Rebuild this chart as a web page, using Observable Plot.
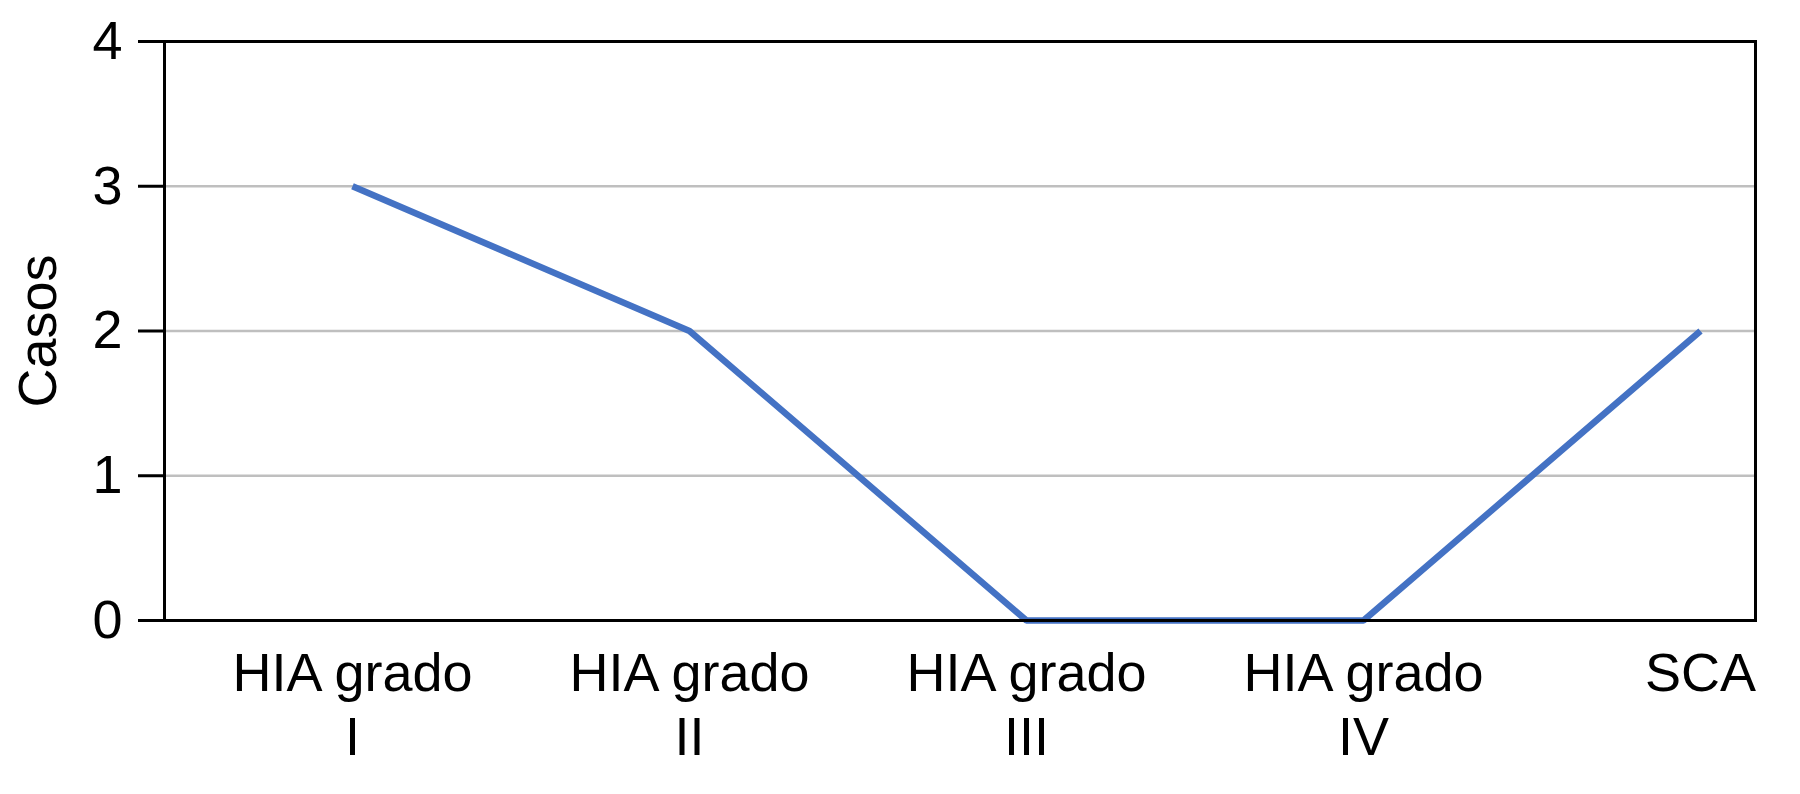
<!DOCTYPE html>
<html>
<head>
<meta charset="utf-8">
<script src="https://cdn.jsdelivr.net/npm/d3@7"></script>
<script src="https://cdn.jsdelivr.net/npm/@observablehq/plot@0.6"></script>
<style>
  html, body { margin: 0; padding: 0; background: #fff; }
  #chart svg { display: block; }
</style>
</head>
<body>
<div id="chart"></div>
<script>
// Data
const categories = ["HIA grado\nI", "HIA grado\nII", "HIA grado\nIII", "HIA grado\nIV", "SCA"];
const casos = [3, 2, 0, 0, 2];
const yTicks = [0, 1, 2, 3, 4];
const gridTicks = [1, 2, 3];
const yLabel = "Casos";

const data = categories.map((c, i) => ({cat: c, v: casos[i]}));

const font = "'Liberation Sans', Arial, Helvetica, sans-serif";

const chart = Plot.plot({
  width: 1800,
  height: 794,
  marginLeft: 164,
  marginRight: 45,
  marginTop: 41,
  marginBottom: 174,
  style: {fontFamily: font, fontSize: "54px", color: "#000", background: "#fff"},
  x: {type: "point", domain: categories, range: [352, 1700], padding: 0},
  y: {domain: [0, 4]},
  marks: [
    Plot.gridY(gridTicks, {stroke: "#bfbfbf", strokeOpacity: 1, strokeWidth: 2.5}),
    Plot.axisY(yTicks, {
      tickSize: 26, tickPadding: 16, tickFormat: "d", strokeWidth: 3,
      fontSize: 54, label: yLabel, labelAnchor: "center", labelOffset: 147, labelArrow: "none"
    }),
    Plot.axisX({tickSize: 0, tickPadding: 24, fontSize: 54, lineHeight: 1.2, label: null}),
    Plot.line(data, {x: "cat", y: "v", stroke: "#4472C4", strokeWidth: 6.5, strokeLinejoin: "miter", strokeLinecap: "butt"}),
    Plot.frame({stroke: "#000", strokeWidth: 3})
  ]
});
document.getElementById("chart").appendChild(chart);
</script>
</body>
</html>
